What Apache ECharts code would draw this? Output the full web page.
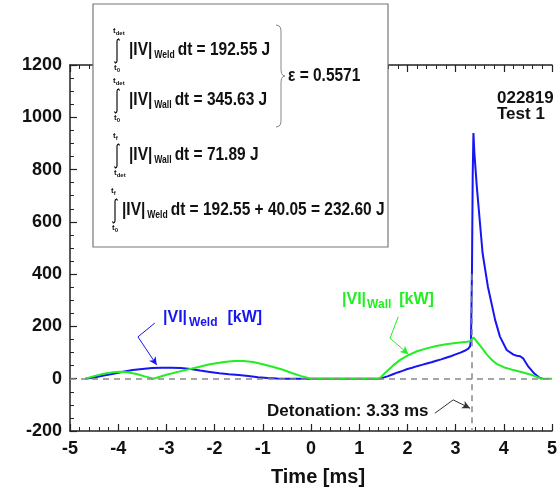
<!DOCTYPE html>
<html>
<head>
<meta charset="utf-8">
<script src="https://cdn.jsdelivr.net/npm/echarts@6/dist/echarts.min.js"></script>
<style>
  html, body { margin: 0; padding: 0; background: #fff; }
  #chart { width: 560px; height: 493px; }
</style>
</head>
<body>
<div id="chart"></div>
<script>
// Electrical power |VI| through the weld and the wall, test 022819 / Test 1
const timeWeld = [-4.68,-4.5,-4.3,-4.1,-3.9,-3.7,-3.5,-3.3,-3.1,-2.9,-2.7,-2.5,-2.3,-2.1,-1.9,-1.7,-1.5,-1.3,-1.1,-0.9,-0.7,-0.5,-0.3,
  1.4,1.5,1.6,1.7,1.8,1.9,2.0,2.1,2.2,2.3,2.4,2.5,2.6,2.7,2.8,2.9,3.0,3.1,3.2,3.26,3.3,3.32,3.34,3.355,3.37,3.39,3.44,3.5,3.56,3.67,3.82,3.92,4.06,4.2,4.27,4.3,4.34,4.4,4.51,4.62,4.74,4.8];
const powerWeld = [0,5,12,19,27,33,37,41,42,42,41,37,31,26,21,17,14,10,6,3,1,0,0,
  0,4,10,17,24,30,37,42,48,53,58,63,69,74,80,86,93,100,108,114,124,150,420,780,940,862,735,607,480,352,225,161,110,92,88,91,86,78,46,22,4,0];

const timeWall = [-4.68,-4.5,-4.3,-4.1,-3.95,-3.8,-3.6,-3.45,-3.27,-3.0,-2.7,-2.4,-2.1,-1.8,-1.6,-1.4,-1.2,-1.0,-0.8,-0.6,-0.4,-0.2,0,
  1.42,1.55,1.7,1.85,2.0,2.2,2.4,2.6,2.8,3.0,3.2,3.3,3.37,3.45,3.55,3.65,3.75,3.85,4.0,4.2,4.4,4.6,4.75,4.8,5.0];
const powerWall = [0,10,19,25,27,25,17,9,0,15,29,42,55,64,68,68,64,55,46,35,22,10,0,
  0,25,50,72,88,105,116,125,132,137,140,143,158,140,117,92,72,57,44,33,24,13,2,0,0];

const detonationTime = 3.33;
const yTicks = { min: -200, max: 1200, step: 200 };
const xTicks = { min: -5, max: 5, step: 1 };

// Leader lines for the annotations (time, power)
const weldArrow = [[-3.24, 213], [-3.59, 160], [-3.2, 52]];
const wallArrow = [[1.81, 237], [1.64, 155], [2.02, 94]];
const detArrow = [[2.57, -132], [2.95, -81], [3.30, -113]];

const FONT = '"Liberation Sans", Arial, Helvetica, sans-serif';
const BLUE = '#1616f2';
const GREEN = '#22ee22';
const INK = '#111';

const zip = (a, b) => a.map((v, i) => [v, b[i]]);

const measureCtx = document.createElement('canvas').getContext('2d');
function textWidth(str, size) {
  measureCtx.font = 'bold ' + size + 'px ' + FONT;
  return measureCtx.measureText(str).width;
}

// Lay out a run of text pieces (main text + subscripts) left to right
function textRun(x, y, pieces, scaleX, color) {
  const out = [];
  let cx = x;
  pieces.forEach(p => {
    cx += (p.gap || 0);
    out.push({
      type: 'text', x: cx, y: y + (p.dy || 0), scaleX: scaleX, z: 120,
      style: {
        text: p.t, font: 'bold ' + p.size + 'px ' + FONT, fill: p.color || color,
        align: 'left', verticalAlign: 'middle', textAlign: 'left', textVerticalAlign: 'middle'
      }
    });
    cx += textWidth(p.t, p.size) * scaleX;
  });
  return out;
}

function integralSign(x, y) {
  return {
    type: 'polyline', z: 120,
    shape: { points: [[x + 2.6, y - 10.5], [x + 1.6, y - 12], [x + 0.5, y - 11.4], [x, y - 10],
                      [x, y + 10], [x - 0.5, y + 11.4], [x - 1.6, y + 12], [x - 2.6, y + 10.5]] },
    style: { stroke: INK, lineWidth: 1.2, fill: null }
  };
}

function limit(x, y, base, sub) {
  return textRun(x, y, [{ t: base, size: 8 }, { t: sub, size: 6, dy: 2 }], 1, INK);
}

// Energy integrals box
const rows = [
  { y: 50, ix: 117, up: ['t', 'det'], lo: ['t', '0'], iv: 129, sub: 'Weld', rhs: 'dt = 192.55 J' },
  { y: 100, ix: 117, up: ['t', 'det'], lo: ['t', '0'], iv: 129, sub: 'Wall', rhs: 'dt = 345.63 J' },
  { y: 155, ix: 117, up: ['t', 'f'], lo: ['t', 'det'], iv: 129, sub: 'Wall', rhs: 'dt = 71.89 J' },
  { y: 210, ix: 115, up: ['t', 'f'], lo: ['t', '0'], iv: 122, sub: 'Weld', rhs: 'dt = 192.55 + 40.05 = 232.60 J' }
];

const graphics = [
  { type: 'rect', z: 110, shape: { x: 93, y: 4, width: 295, height: 243 },
    style: { fill: '#fff', stroke: '#777', lineWidth: 1.2 } }
];
rows.forEach(r => {
  graphics.push(integralSign(r.ix, r.y + 1));
  graphics.push(...limit(r.ix - 4, r.y - 19, r.up[0], r.up[1]));
  graphics.push(...limit(r.ix - 3, r.y + 18, r.lo[0], r.lo[1]));
  graphics.push(...textRun(r.iv, r.y, [
    { t: '|IV|', size: 18 },
    { t: r.sub, size: 10, dy: 5, gap: 2 },
    { t: r.rhs, size: 18, gap: 3 }
  ], 0.86, INK));
});
graphics.push({
  type: 'polyline', z: 120,
  shape: { points: [[276, 25], [279, 25.8], [280.6, 28], [281, 31], [281, 70], [281.6, 73.5], [283, 75.3], [285, 76],
                    [283, 76.7], [281.6, 78.5], [281, 82], [281, 121], [280.6, 124], [279, 126.2], [276, 127]] },
  style: { stroke: '#888', lineWidth: 1, fill: null }
});
graphics.push(...textRun(288, 76, [{ t: 'ε = 0.5571', size: 18 }], 0.86, INK));

// Curve labels
graphics.push(...textRun(163, 318, [
  { t: '|VI|', size: 16 }, { t: 'Weld', size: 12, dy: 5, gap: 2 }, { t: '[kW]', size: 16, gap: 10 }
], 1, BLUE));
graphics.push(...textRun(342, 300, [
  { t: '|VI|', size: 16 }, { t: 'Wall', size: 12, dy: 5, gap: 1 }, { t: '[kW]', size: 16, gap: 8 }
], 1, GREEN));
graphics.push(...textRun(267, 411, [{ t: 'Detonation: 3.33 ms', size: 17 }], 1, INK));
graphics.push(...textRun(497, 98, [{ t: '022819', size: 17 }], 1, INK));
graphics.push(...textRun(497, 114, [{ t: 'Test 1', size: 17 }], 1, INK));

function arrowLines(pts, color) {
  return {
    type: 'line', data: [], silent: true, animation: false,
    markLine: {
      silent: true, animation: false, label: { show: false },
      symbol: ['none', 'none'],
      lineStyle: { color: color, width: 1, type: 'solid' },
      emphasis: { disabled: true },
      data: [
        [{ coord: pts[0], symbol: 'none' }, { coord: pts[1], symbol: 'none' }],
        [{ coord: pts[1], symbol: 'none' }, { coord: pts[2], symbol: 'arrow', symbolSize: [6, 8] }]
      ]
    }
  };
}

const axisColor = '#222';
const plainNumber = v => String(v);
function xAxisDef(pos, showLabel) {
  return {
    type: 'value', position: pos, min: xTicks.min, max: xTicks.max, interval: xTicks.step,
    axisLine: { show: true, onZero: false, lineStyle: { color: axisColor, width: 1.5 } },
    axisTick: { show: true, inside: true, length: 7, lineStyle: { color: axisColor, width: 1.2 } },
    minorTick: { show: true, splitNumber: 5, length: 4, lineStyle: { color: axisColor, width: 1 } },
    splitLine: { show: false },
    axisLabel: { show: showLabel, fontSize: 18, fontWeight: 'bold', color: INK, fontFamily: FONT, margin: 9, formatter: plainNumber },
    name: showLabel ? 'Time [ms]' : '', nameLocation: 'middle', nameGap: 36,
    nameTextStyle: { fontSize: 20, fontWeight: 'bold', color: INK, fontFamily: FONT, padding: [0, 0, 0, 14] }
  };
}

const chart = echarts.init(document.getElementById('chart'), null, { renderer: 'canvas' });
chart.setOption({
  animation: false,
  backgroundColor: '#fff',
  grid: { left: 70, right: 8, top: 65, bottom: 62, containLabel: false, outerBoundsMode: 'none' },
  xAxis: [xAxisDef('bottom', true), xAxisDef('top', false)],
  yAxis: {
    type: 'value', min: yTicks.min, max: yTicks.max, interval: yTicks.step,
    axisLine: { show: true, onZero: false, lineStyle: { color: axisColor, width: 1.5 } },
    axisTick: { show: true, inside: true, length: 7, lineStyle: { color: axisColor, width: 1.2 } },
    minorTick: { show: true, splitNumber: 4, length: 4, lineStyle: { color: axisColor, width: 1 } },
    splitLine: { show: false },
    axisLabel: { fontSize: 18, fontWeight: 'bold', color: INK, fontFamily: FONT, margin: 8, formatter: plainNumber }
  },
  series: [
    {
      name: 'reference', type: 'line', data: [], silent: true,
      markLine: {
        silent: true, symbol: ['none', 'none'], label: { show: false },
        lineStyle: { color: '#888', width: 1.5, type: [6, 5] },
        data: [
          { yAxis: 0 },
          [{ coord: [detonationTime, 400] }, { coord: [detonationTime, yTicks.min] }]
        ]
      }
    },
    {
      name: 'Weld', type: 'line', data: zip(timeWeld, powerWeld), symbol: 'none', showSymbol: false,
      lineStyle: { color: BLUE, width: 2 }, itemStyle: { color: BLUE }, silent: true
    },
    {
      name: 'Wall', type: 'line', data: zip(timeWall, powerWall), symbol: 'none', showSymbol: false,
      lineStyle: { color: GREEN, width: 2 }, itemStyle: { color: GREEN }, silent: true
    },
    arrowLines(weldArrow, BLUE),
    arrowLines(wallArrow, GREEN),
    arrowLines(detArrow, '#333')
  ],
  graphic: graphics
});
</script>
</body>
</html>
